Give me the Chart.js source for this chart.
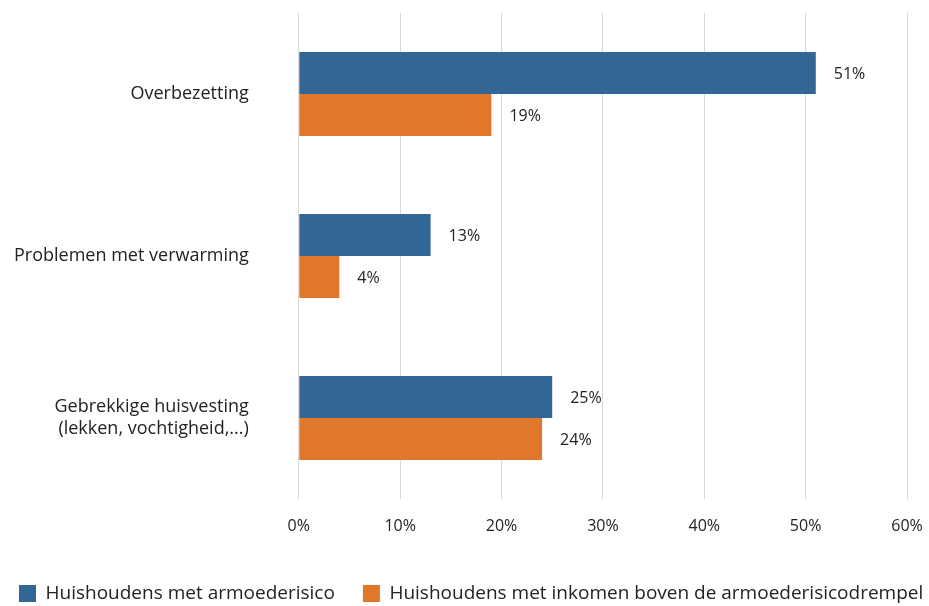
<!DOCTYPE html>
<html>
<head>
<meta charset="utf-8">
<script src="https://cdn.jsdelivr.net/npm/chart.js@4"></script>
<style>
  html, body { margin: 0; padding: 0; background: #fff; }
  #wrap { width: 929px; height: 606px; position: relative; }
</style>
</head>
<body>
<div id="wrap"><canvas id="chart"></canvas></div>
<script>
const categories = [
    "Overbezetting",
    "Problemen met verwarming",
    ["Gebrekkige huisvesting", "(lekken, vochtigheid,...)"]
];
const seriesNames = [
    "Huishoudens met armoederisico",
    "Huishoudens met inkomen boven de armoederisicodrempel"
];
const armoederisico = [51, 13, 25];
const bovenDrempel = [19, 4, 24];
const tickValues = [0, 10, 20, 30, 40, 50, 60];

const fontFamily = "'Open Sans', 'Noto Sans', sans-serif";

// waarden naast de balken
const valueLabels = {
    id: 'valueLabels',
    afterDatasetsDraw(chart) {
        const ctx = chart.ctx;
        ctx.save();
        ctx.font = "16px " + fontFamily;
        ctx.fillStyle = '#222';
        ctx.textBaseline = 'middle';
        ctx.textAlign = 'left';
        chart.data.datasets.forEach(function (ds, i) {
            chart.getDatasetMeta(i).data.forEach(function (bar, j) {
                ctx.fillText(ds.data[j] + '%', bar.x + 18, bar.y + 1);
            });
        });
        ctx.restore();
    }
};

// legenda: ruime afstand tussen de items (padding 28), maar op één rij
const legendLayout = {
    id: 'legendLayout',
    beforeLayout(chart) {
        const lg = chart.legend;
        if (lg && !lg._oneRow) {
            const fit = lg.fit;
            lg.fit = function () {
                const mw = this.maxWidth;
                this.maxWidth = mw + 200;
                fit.call(this);
                this.maxWidth = mw;
                this.width = Math.min(this.width, mw);
                this.height += 10;
            };
            lg._oneRow = true;
        }
    },
    afterLayout(chart) {
        const lg = chart.legend;
        lg.top += 17;
        lg.bottom += 17;
        lg.left -= 15;
        lg.right += 200;
    }
};

new Chart(document.getElementById('chart'), {
    type: 'bar',
    data: {
        labels: categories,
        datasets: [{
            label: seriesNames[0],
            data: armoederisico,
            backgroundColor: '#316695'
        }, {
            label: seriesNames[1],
            data: bovenDrempel,
            backgroundColor: '#e0772b'
        }]
    },
    options: {
        indexAxis: 'y',
        responsive: true,
        maintainAspectRatio: false,
        animation: false,
        categoryPercentage: 0.52,
        barPercentage: 1.0,
        layout: { padding: { left: 6, right: 22, top: 13, bottom: 0 } },
        plugins: {
            legend: {
                position: 'bottom',
                align: 'start',
                labels: {
                    boxWidth: 17,
                    boxHeight: 17,
                    padding: 28,
                    color: '#222',
                    font: { family: fontFamily, size: 19 }
                }
            },
            tooltip: { enabled: false }
        },
        scales: {
            x: {
                min: 0,
                max: 60,
                afterBuildTicks: function (axis) {
                    axis.ticks = tickValues.map(function (v) { return { value: v }; });
                },
                afterFit: function (axis) {
                    axis.height = 40;
                    axis.paddingLeft = 0;
                    axis.paddingRight = 0;
                },
                grid: { color: '#d9d9d9', drawTicks: true, tickLength: 16, tickColor: 'rgba(0,0,0,0)' },
                border: { display: false },
                ticks: {
                    padding: 2,
                    color: '#222',
                    font: { family: fontFamily, size: 16 },
                    callback: function (v) { return v + '%'; }
                }
            },
            y: {
                afterFit: function (axis) {
                    axis.paddingTop = 0;
                    axis.paddingBottom = 0;
                },
                grid: { display: false, drawTicks: true, tickLength: 42 },
                border: { display: false },
                ticks: {
                    padding: 8,
                    color: '#222',
                    font: { family: fontFamily, size: 18 }
                }
            }
        }
    },
    plugins: [valueLabels, legendLayout]
});
</script>
</body>
</html>
